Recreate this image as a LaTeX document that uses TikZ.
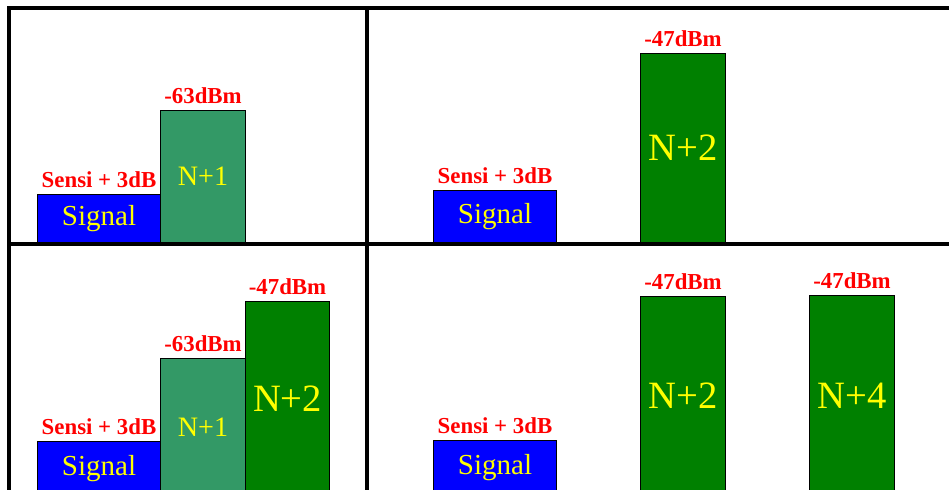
\documentclass[tikz,border=0pt]{standalone}
\usepackage{fontspec}
\setmainfont{Liberation Serif}
\usetikzlibrary{positioning}
\definecolor{sigblue}{RGB}{0,0,255}
\definecolor{adjgreen}{RGB}{51,153,102}
\definecolor{altgreen}{RGB}{0,128,0}
\definecolor{txtyellow}{RGB}{255,255,0}
\definecolor{lvlred}{RGB}{255,0,0}

\begin{document}
\begin{tikzpicture}[
  x=0.2mm, y=-0.2mm,
  frame/.style={line width=2pt, black},
  bar/.style={rectangle, draw=black, line width=0.6pt, anchor=south west,
              inner sep=0pt, text=txtyellow},
  sigbar/.style={bar, fill=sigblue, minimum width=24.6mm,
                 font=\fontsize{16.5}{18}\selectfont},
  adjbar/.style={bar, fill=adjgreen, minimum width=17mm,
                 font=\fontsize{16}{18}\selectfont},
  altbar/.style={bar, fill=altgreen, minimum width=17mm,
                 font=\fontsize{22}{24}\selectfont},
  lvl/.style={inner sep=0pt, text=lvlred,
              font=\fontsize{13}{15}\selectfont\bfseries}
]
\useasboundingbox (0,0) rectangle (949,490);
\clip (0,0) rectangle (949,490);

% -- frame and dividers --
\draw[frame] (9,500) |- (960,8);
\draw[frame] (367,8) -- (367,500);
\draw[frame] (9,244) -- (960,244);

% -- top left: signal + N+1 --
\node[sigbar, minimum height=9.6mm]  (sigA) at (37,243)  {Signal};
\node[adjbar, minimum height=26.4mm] (adjA) at (160,243) {N+1};
\node[lvl, above=3.5pt of sigA] (lsigA) {Sensi + 3dB};
\node[lvl, above=3.5pt of adjA] (ladjA) {-63dBm};

% -- top right: signal + N+2 --
\node[sigbar, minimum height=10.4mm] (sigB) at (433,243) {Signal};
\node[altbar, minimum height=37.8mm] (altB) at (640,243) {N+2};
\node[lvl, above=3.5pt of sigB] (lsigB) {Sensi + 3dB};
\node[lvl, above=3.5pt of altB] (laltB) {-47dBm};

% -- bottom left: signal + N+1 + N+2 --
\node[sigbar, minimum height=10.8mm] (sigC) at (37,496)  {Signal};
\node[adjbar, minimum height=27.4mm] (adjC) at (160,496) {N+1};
\node[altbar, minimum height=38.8mm, minimum width=16.8mm] (altC) at (245,496) {N+2};
\node[lvl, above=3.5pt of sigC] (lsigC) {Sensi + 3dB};
\node[lvl, above=3.5pt of adjC] (ladjC) {-63dBm};
\node[lvl, above=3.5pt of altC] (laltC) {-47dBm};

% -- bottom right: signal + N+2 + N+4 --
\node[sigbar, minimum height=11mm]   (sigD) at (433,496) {Signal};
\node[altbar, minimum height=39.8mm] (altD) at (640,496) {N+2};
\node[altbar, minimum height=40mm]   (altE) at (809,496) {N+4};
\node[lvl, above=3.5pt of sigD] (lsigD) {Sensi + 3dB};
\node[lvl, above=3.5pt of altD] (laltD) {-47dBm};
\node[lvl, above=3.5pt of altE] (laltE) {-47dBm};

\end{tikzpicture}
\end{document}
